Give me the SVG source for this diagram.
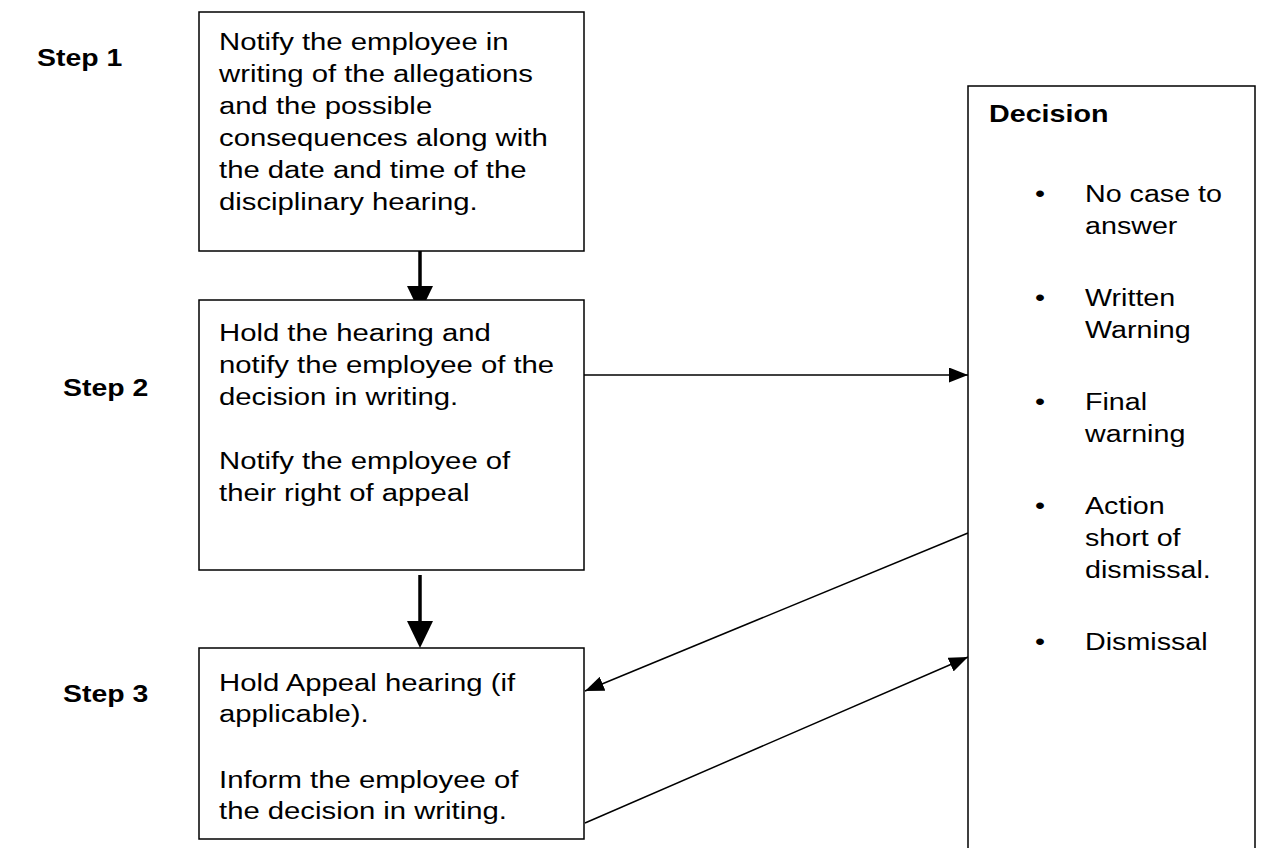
<svg xmlns="http://www.w3.org/2000/svg" width="1262" height="848" viewBox="0 0 1262 848">
<style>
.box{fill:#fff;stroke:#000;stroke-width:1.5}
.t{font-family:"Liberation Sans",Arial,sans-serif;font-size:24.5px;fill:#000}
.b{font-weight:bold}
.thick{stroke:#000;stroke-width:3.5;fill:none}
.thin{stroke:#000;stroke-width:1.5;fill:none}
</style>
<defs>
<marker id="headThick" markerUnits="userSpaceOnUse" viewBox="0 0 27 26" markerWidth="27" markerHeight="26" refX="0" refY="13" orient="auto" overflow="visible">
<path d="M0,0 L27,13 L0,26 Z" fill="#000"/>
</marker>
<marker id="headThin" markerUnits="userSpaceOnUse" viewBox="0 0 19 15" markerWidth="19" markerHeight="15" refX="19" refY="7.5" orient="auto">
<path d="M0,0 L19,7.5 L0,15 Z" fill="#000"/>
</marker>
</defs>
<rect width="1262" height="848" fill="#fff"/>

<g id="connectors">
<line class="thick" x1="420" y1="251" x2="420" y2="286" marker-end="url(#headThick)"/>
<line class="thick" x1="420" y1="575" x2="420" y2="621" marker-end="url(#headThick)"/>
<line class="thin" x1="584" y1="375" x2="968" y2="375" marker-end="url(#headThin)"/>
<line class="thin" x1="968" y1="533" x2="585" y2="691" marker-end="url(#headThin)"/>
<line class="thin" x1="585" y1="823" x2="968" y2="657" marker-end="url(#headThin)"/>
</g>

<g id="labels">
<text class="t b" transform="translate(37,66) scale(1.16,1)">Step 1</text>
<text class="t b" transform="translate(63,396) scale(1.16,1)">Step 2</text>
<text class="t b" transform="translate(63,702) scale(1.16,1)">Step 3</text>
</g>

<g id="step1">
<rect class="box" x="199" y="12" width="385" height="239"/>
<text class="t" transform="translate(219,50) scale(1.195,1)"><tspan x="0" y="0">Notify the employee in</tspan><tspan x="0" y="32">writing of the allegations</tspan><tspan x="0" y="64">and the possible</tspan><tspan x="0" y="96">consequences along with</tspan><tspan x="0" y="128">the date and time of the</tspan><tspan x="0" y="160">disciplinary hearing.</tspan></text>
</g>

<g id="step2">
<rect class="box" x="199" y="300" width="385" height="270"/>
<text class="t" transform="translate(219,341) scale(1.195,1)"><tspan x="0" y="0">Hold the hearing and</tspan><tspan x="0" y="32">notify the employee of the</tspan><tspan x="0" y="64">decision in writing.</tspan><tspan x="0" y="128">Notify the employee of</tspan><tspan x="0" y="160">their right of appeal</tspan></text>
</g>

<g id="step3">
<rect class="box" x="199" y="648" width="385" height="191"/>
<text class="t" transform="translate(219,691) scale(1.195,1)"><tspan x="0" y="0">Hold Appeal hearing (if</tspan><tspan x="0" y="31">applicable).</tspan><tspan x="0" y="97">Inform the employee of</tspan><tspan x="0" y="128">the decision in writing.</tspan></text>
</g>

<g id="decision">
<rect class="box" x="968" y="86" width="287" height="800"/>
<text class="t b" transform="translate(989,122) scale(1.17,1)">Decision</text>
<g class="t">
<text transform="translate(1035,202) scale(1.17,1)">•</text>
<text transform="translate(1085,202) scale(1.17,1)"><tspan x="0" y="0">No case to</tspan><tspan x="0" y="32">answer</tspan></text>
<text transform="translate(1035,306) scale(1.17,1)">•</text>
<text transform="translate(1085,306) scale(1.17,1)"><tspan x="0" y="0">Written</tspan><tspan x="0" y="32">Warning</tspan></text>
<text transform="translate(1035,410) scale(1.17,1)">•</text>
<text transform="translate(1085,410) scale(1.17,1)"><tspan x="0" y="0">Final</tspan><tspan x="0" y="32">warning</tspan></text>
<text transform="translate(1035,514) scale(1.17,1)">•</text>
<text transform="translate(1085,514) scale(1.17,1)"><tspan x="0" y="0">Action</tspan><tspan x="0" y="32">short of</tspan><tspan x="0" y="64">dismissal.</tspan></text>
<text transform="translate(1035,650) scale(1.17,1)">•</text>
<text transform="translate(1085,650) scale(1.17,1)">Dismissal</text>
</g>
</g>
</svg>
